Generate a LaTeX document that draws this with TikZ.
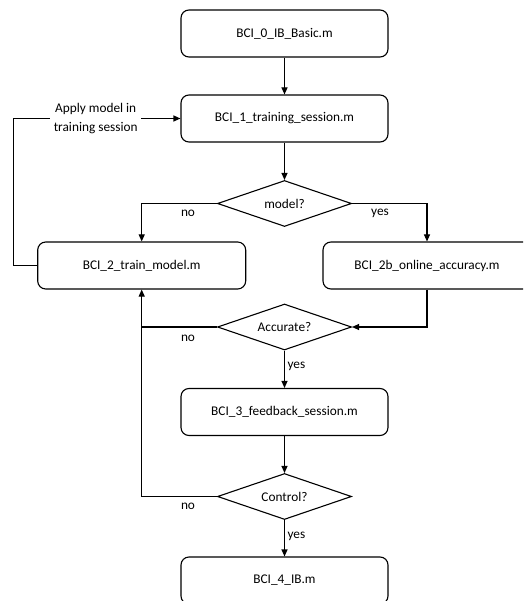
\documentclass[tikz,border=0pt]{standalone}
\usepackage{fontspec}
\setmainfont{Carlito}
\usetikzlibrary{shapes.geometric,arrows.meta}
\begin{document}
\begin{tikzpicture}[x=1pt,y=-1pt,
  font=\fontsize{13.3}{19.7}\selectfont,
  line width=1.1pt,
  >={Triangle[length=7pt,width=6pt]},
  proc/.style={draw,rounded corners=8pt,minimum width=207pt,minimum height=47pt,inner sep=0pt},
  decide/.style={draw,diamond,aspect=2.9,minimum width=134pt,minimum height=46pt,inner sep=0pt},
  lbl/.style={inner sep=1pt}]
  \clip (0,0) rectangle (523,601);
  \fill[white] (0,0) rectangle (523,601);

  % process boxes and decisions
  \node[proc] (b0) at (284.5,33.5) {BCI\_0\_IB\_Basic.m};
  \node[proc] (b1) at (284.5,118.5) {BCI\_1\_training\_session.m};
  \node[decide] (d1) at (284.5,203.5) {model?};
  \node[proc,minimum width=208pt] (b2) at (141.7,265.5) {BCI\_2\_train\_model.m};
  \node[proc,minimum width=208pt] (b2b) at (427,265.5) {BCI\_2b\_online\_accuracy.m};
  \node[decide] (d2) at (284.5,327) {Accurate?};
  \node[proc] (b3) at (284.5,412) {BCI\_3\_feedback\_session.m};
  \node[decide] (d3) at (284.5,496.5) {Control?};
  \node[proc] (b4) at (284.5,580.5) {BCI\_4\_IB.m};

  \node[align=center,inner sep=3pt] (apply) at (95.7,118.5) {Apply model in\\training session};

  % main flow
  \draw[->] (b0) -- (b1);
  \draw[->] (b1) -- (d1);
  \draw[->] (d1.west) -| (b2.north);
  \draw[->] (d1.east) -| (b2b.north);
  \draw[->] (b2b.south) |- (d2.east);
  \draw[->] (d2.west) -| (b2.south);
  \draw[->] (d2) -- (b3);
  \draw[->] (b3) -- (d3);
  \coordinate (j) at (b2.south |- d2.west);
  \draw (d3.west) -| (j);
  \draw[->] (d3) -- (b4);

  % feedback loop back to the training session
  \draw (b2.west) -- ++(-24,0) |- (apply.west);
  \draw[->] (apply.east) -- (b1.west);

  % branch labels
  \node[lbl] (n1) at (188,213) {no};
  \node[lbl] (y1) at (380,213) {yes};
  \node[lbl] (n2) at (188,338) {no};
  \node[lbl,anchor=west] (y2) at (286,366.7) {yes};
  \node[lbl] (n3) at (188,506.7) {no};
  \node[lbl,anchor=west] (y3) at (286,536.7) {yes};
\end{tikzpicture}
\end{document}
